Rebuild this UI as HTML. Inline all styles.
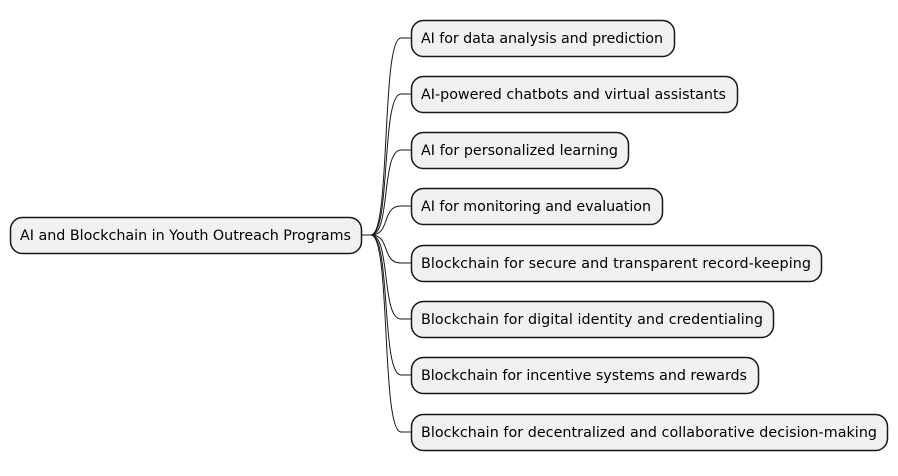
<!DOCTYPE html>
<html><head><style>body{margin:0;background:#fff}</style></head><body>
<svg width="898" height="471" xmlns="http://www.w3.org/2000/svg" font-family="DejaVu Sans, sans-serif" font-size="14.3">
<g fill="none" stroke="#181818" stroke-width="1">
<path d="M361,235 L371,235 C391,235 381,38 401,38 L411,38"/>
<path d="M361,235 L371,235 C391,235 381,94 401,94 L411,94"/>
<path d="M361,235 L371,235 C391,235 381,150 401,150 L411,150"/>
<path d="M361,235 L371,235 C391,235 381,206 401,206 L411,206"/>
<path d="M361,235 L371,235 C391,235 381,263 401,263 L411,263"/>
<path d="M361,235 L371,235 C391,235 381,319 401,319 L411,319"/>
<path d="M361,235 L371,235 C391,235 381,375 401,375 L411,375"/>
<path d="M361,235 L371,235 C391,235 381,432 401,432 L411,432"/>
</g>
<g fill="#f1f1f1" stroke="#181818" stroke-width="1.5">
<rect x="10.5" y="217.5" width="351" height="36" rx="12"/>
<rect x="411.5" y="20.5" width="263" height="36" rx="12"/>
<rect x="411.5" y="76.5" width="326" height="36" rx="12"/>
<rect x="411.5" y="132.5" width="217" height="36" rx="12"/>
<rect x="411.5" y="188.5" width="251" height="36" rx="12"/>
<rect x="411.5" y="245.5" width="410" height="36" rx="12"/>
<rect x="411.5" y="301.5" width="362" height="36" rx="12"/>
<rect x="411.5" y="357.5" width="347" height="36" rx="12"/>
<rect x="411.5" y="414.5" width="476" height="36" rx="12"/>
</g>
<g fill="#000" lengthAdjust="spacingAndGlyphs">
<text x="20" y="240" textLength="331">AI and Blockchain in Youth Outreach Programs</text>
<text x="421" y="43" textLength="242">AI for data analysis and prediction</text>
<text x="421" y="99" textLength="305">AI-powered chatbots and virtual assistants</text>
<text x="421" y="155" textLength="197">AI for personalized learning</text>
<text x="421" y="211" textLength="230">AI for monitoring and evaluation</text>
<text x="421" y="268" textLength="390">Blockchain for secure and transparent record-keeping</text>
<text x="421" y="324" textLength="342">Blockchain for digital identity and credentialing</text>
<text x="421" y="380" textLength="326">Blockchain for incentive systems and rewards</text>
<text x="421" y="437" textLength="456">Blockchain for decentralized and collaborative decision-making</text>
</g>
</svg>
</body></html>
